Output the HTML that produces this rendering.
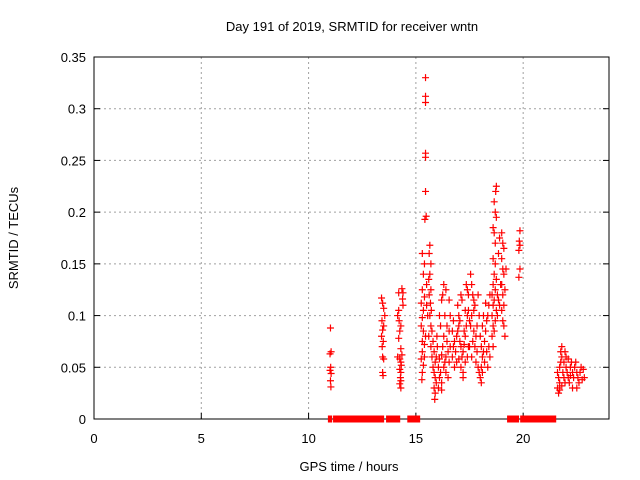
<!DOCTYPE html>
<html><head><meta charset="utf-8"><style>
body{margin:0;background:#fff}
svg{display:block;font-family:"Liberation Sans",sans-serif}
</style></head><body>
<svg id="chart" width="640" height="480">
<text x="352" y="31" text-anchor="middle" font-size="13">Day 191 of 2019, SRMTID for receiver wntn</text>
<text x="349" y="471" text-anchor="middle" font-size="13">GPS time / hours</text>
<text transform="translate(18,238) rotate(-90)" text-anchor="middle" font-size="13">SRMTID / TECUs</text>
<g id="grid"></g><g id="axes"></g><g id="marks"></g>
</svg>
<script>
const xTicks=[0,5,10,15,20];
const yTicks=[0,0.05,0.1,0.15,0.2,0.25,0.3,0.35];
const yTickLabels=["0","0.05","0.1","0.15","0.2","0.25","0.3","0.35"];
const zeroStart=[10.9,11.14,13.61,14.6,19.25,19.86];
const zeroEnd=[11.1,13.52,14.27,15.2,19.81,21.54];
const hours=[11.02,11.05,11.0,11.03,11.0,11.05,11.02,11.04,
13.4,13.45,13.5,13.42,13.5,13.45,13.4,13.48,13.43,13.45,13.5,13.45,13.47,13.55,
14.35,14.4,14.2,14.38,14.4,14.2,14.15,14.22,14.3,14.25,14.2,14.3,14.15,14.25,14.3,14.32,14.25,14.3,14.28,14.3,14.25,14.3,14.35,
15.45,15.45,15.45,15.45,15.45,15.45,15.42,15.48,
15.3,15.4,15.35,15.3,15.4,15.25,15.35,15.3,15.25,15.35,15.3,15.4,15.3,15.25,15.35,15.3,15.28,15.4,15.45,15.5,15.5,15.55,
15.65,15.62,15.7,15.65,15.6,15.7,15.62,15.68,15.72,15.65,15.7,15.75,15.6,15.8,15.7,15.85,15.75,15.9,15.8,15.85,15.9,15.95,15.85,15.9,15.88,15.95,16.0,15.98,
16.05,16.1,16.15,16.2,16.25,16.1,16.2,16.3,16.35,16.4,16.45,16.5,16.3,16.15,16.1,16.2,16.25,16.3,16.4,16.35,16.45,16.55,16.6,16.55,16.4,16.05,16.2,16.5,16.6,16.55,
16.7,16.75,16.8,16.85,16.9,16.95,17.0,17.05,17.1,17.15,17.2,17.25,17.3,17.35,17.4,17.45,16.8,16.9,17.0,17.1,17.2,17.3,17.4,17.45,16.95,17.0,17.1,17.15,17.3,17.35,17.4,17.45,17.5,16.7,16.75,17.2,17.25,17.05,
17.55,17.6,17.65,17.7,17.75,17.6,17.55,17.7,17.8,17.65,17.75,17.85,17.6,17.8,17.9,17.95,17.85,17.95,17.9,17.7,17.5,
18.0,18.05,18.1,18.05,18.1,18.0,18.05,18.15,18.2,18.25,18.3,18.35,18.4,18.45,18.3,18.2,18.4,18.45,18.35,18.1,18.15,18.25,
18.75,18.72,18.65,18.7,18.75,18.6,18.65,18.7,18.6,18.7,18.65,18.75,18.6,18.7,18.65,18.6,18.55,18.7,18.6,18.65,18.55,18.6,18.8,18.85,18.75,18.8,18.9,18.95,18.85,18.9,18.55,
19.0,19.05,19.1,19.0,19.05,19.1,19.0,19.05,19.1,19.0,19.05,19.1,19.15,19.2,19.15,
19.85,19.82,19.85,19.8,19.85,19.8,
21.6,21.65,21.7,21.6,21.65,21.7,21.75,21.8,21.75,21.8,21.85,21.9,21.95,22.0,22.05,22.1,22.15,22.2,22.25,22.3,22.35,22.4,22.45,22.5,22.55,22.6,22.65,22.7,22.8,22.85,21.7,21.8,21.9,22.0,22.1,22.3,22.5,22.75,21.95,22.2];
const tecu=[0.088,0.065,0.063,0.05,0.047,0.044,0.037,0.031,
0.117,0.112,0.107,0.095,0.09,0.086,0.08,0.075,0.07,0.06,0.058,0.045,0.042,0.1,
0.126,0.122,0.122,0.116,0.11,0.105,0.1,0.095,0.09,0.085,0.078,0.068,0.06,0.058,0.055,0.052,0.048,0.045,0.04,0.037,0.034,0.03,0.062,
0.33,0.312,0.306,0.257,0.253,0.22,0.193,0.196,
0.16,0.15,0.14,0.125,0.118,0.112,0.105,0.098,0.09,0.085,0.075,0.072,0.065,0.058,0.052,0.045,0.038,0.06,0.08,0.11,0.13,0.1,
0.168,0.16,0.15,0.14,0.135,0.125,0.12,0.112,0.105,0.1,0.09,0.085,0.08,0.075,0.07,0.065,0.06,0.055,0.05,0.045,0.04,0.035,0.03,0.025,0.019,0.06,0.07,0.08,
0.05,0.058,0.045,0.062,0.07,0.04,0.035,0.05,0.055,0.06,0.075,0.065,0.08,0.09,0.1,0.115,0.12,0.13,0.125,0.1,0.09,0.085,0.07,0.055,0.045,0.03,0.028,0.04,0.1,0.115,
0.06,0.07,0.075,0.065,0.08,0.085,0.09,0.095,0.07,0.06,0.065,0.072,0.08,0.09,0.1,0.105,0.05,0.055,0.058,0.05,0.045,0.055,0.06,0.07,0.11,0.1,0.12,0.115,0.105,0.13,0.125,0.12,0.095,0.085,0.095,0.04,0.085,0.075,
0.14,0.13,0.12,0.115,0.11,0.1,0.09,0.085,0.08,0.075,0.07,0.065,0.06,0.055,0.05,0.045,0.09,0.1,0.12,0.105,0.07,
0.08,0.07,0.06,0.05,0.045,0.04,0.035,0.065,0.075,0.085,0.095,0.1,0.11,0.12,0.065,0.055,0.07,0.06,0.05,0.09,0.1,0.112,
0.225,0.22,0.21,0.2,0.195,0.185,0.18,0.17,0.155,0.15,0.14,0.135,0.13,0.125,0.115,0.11,0.1,0.095,0.09,0.085,0.08,0.07,0.12,0.115,0.105,0.1,0.11,0.13,0.16,0.175,0.12,
0.18,0.17,0.165,0.155,0.145,0.14,0.13,0.12,0.11,0.105,0.095,0.09,0.08,0.145,0.125,
0.182,0.172,0.168,0.163,0.145,0.137,
0.045,0.04,0.035,0.03,0.025,0.05,0.055,0.06,0.065,0.07,0.045,0.04,0.035,0.05,0.045,0.04,0.035,0.05,0.055,0.045,0.04,0.05,0.055,0.045,0.04,0.035,0.045,0.05,0.048,0.04,0.028,0.032,0.055,0.06,0.058,0.03,0.03,0.038,0.065,0.042];
const NS="http://www.w3.org/2000/svg";
const L=94,R=609,T=57,B=419;
const xs=h=>L+(h/24)*(R-L);
const ys=v=>B-(v/0.35)*(B-T);
function mk(tag,attrs,parent){const e=document.createElementNS(NS,tag);for(const k in attrs)e.setAttribute(k,attrs[k]);parent.appendChild(e);return e;}
const grid=document.getElementById('grid'),axes=document.getElementById('axes'),marks=document.getElementById('marks');
xTicks.forEach(t=>{const x=xs(t);
 if(t>0){const g=mk('line',{x1:x,x2:x,y1:T,y2:B,stroke:'#a0a0a0','stroke-dasharray':'2,3'},grid);
 
 }
 mk('line',{x1:x,x2:x,y1:B,y2:B-6,stroke:'#000'},axes);
 const tx=mk('text',{x:x,y:B+24,'text-anchor':'middle','font-size':'13'},axes);tx.textContent=t;
 
 });
yTicks.forEach((t,i)=>{const y=ys(t);
 if(t>0&&t<0.35){const g=mk('line',{x1:L,x2:R,y1:y,y2:y,stroke:'#a0a0a0','stroke-dasharray':'2,3'},grid);
 
 }
 mk('line',{x1:L,x2:L+6,y1:y,y2:y,stroke:'#000'},axes);
 mk('line',{x1:R,x2:R-6,y1:y,y2:y,stroke:'#000'},axes);
 const tx=mk('text',{x:L-8,y:y+5,'text-anchor':'end','font-size':'13'},axes);tx.textContent=yTickLabels[i];
 
 });
const fr=mk('rect',{x:L,y:T,width:R-L,height:B-T,fill:'none',stroke:'#000'},axes);


zeroStart.forEach((s,i)=>{const r=mk('rect',{x:xs(s),y:B-3.5,width:xs(zeroEnd[i])-xs(s),height:7,fill:'#f00'},marks);
 
 });
hours.forEach((h,i)=>{const x=xs(h),y=ys(tecu[i]);
 const p=mk('path',{d:`M${x-3.5} ${y}H${x+3.5}M${x} ${y-3.5}V${y+3.5}`,stroke:'#f00','stroke-width':'1.2',fill:'none'},marks);
 
 });
</script>
</body></html>
